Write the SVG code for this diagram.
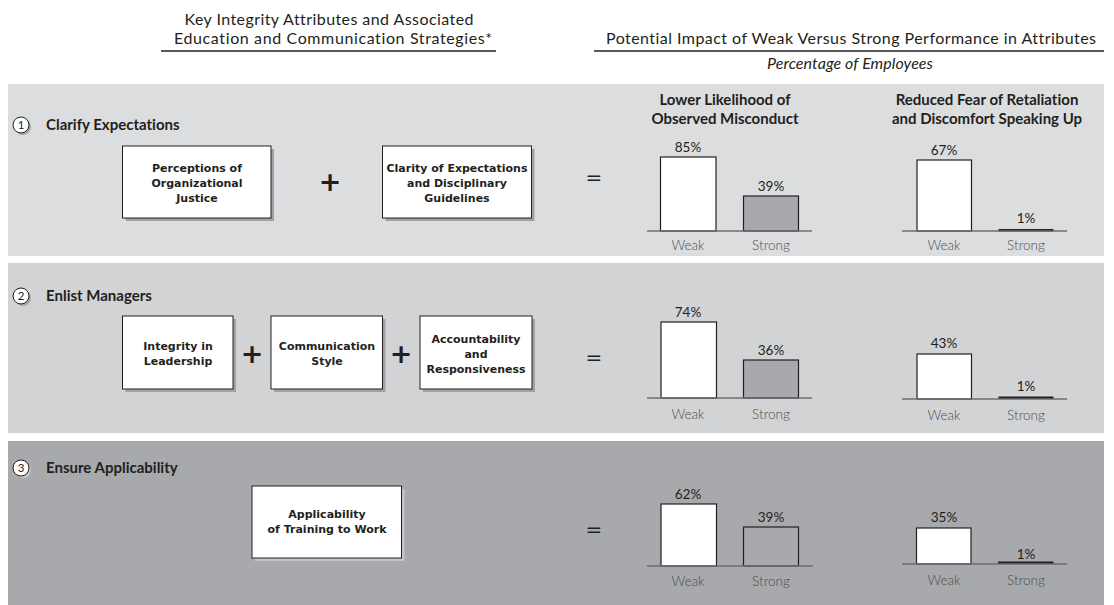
<svg xmlns="http://www.w3.org/2000/svg" width="1114" height="605" viewBox="0 0 1114 605">
<style>
text{font-variant-ligatures:none;font-feature-settings:"liga" 0,"dlig" 0}
.hdr{font-family:Lato,"Liberation Sans",sans-serif;font-size:16px;fill:#231f20}
.hdri{font-family:Lato,"Liberation Sans",sans-serif;font-size:16px;font-style:italic;fill:#231f20}
.sec{font-family:Lato,"Liberation Sans",sans-serif;font-size:15px;font-weight:bold;fill:#231f20}
.num{font-family:Lato,"Liberation Sans",sans-serif;font-size:11.5px;fill:#231f20;text-anchor:middle}
.box{fill:#fff;stroke:#231f20;stroke-width:1}
.btx{font-family:"DejaVu Sans",Verdana,sans-serif;font-size:11px;font-weight:bold;fill:#231f20;text-anchor:middle}
.op{font-family:"DejaVu Sans",sans-serif;font-weight:bold;fill:#231f20;text-anchor:middle}
.eq{font-family:"DejaVu Sans",sans-serif;fill:#231f20;text-anchor:middle}
.ctitle{font-family:Lato,"Liberation Sans",sans-serif;font-size:15px;font-weight:bold;fill:#231f20;text-anchor:middle}
.val{font-family:Lato,"Liberation Sans",sans-serif;font-size:13.5px;fill:#231f20;text-anchor:middle}
.lab{font-family:Lato,"Liberation Sans",sans-serif;font-size:13.5px;font-weight:300;fill:#4d4d4f;text-anchor:middle}
.wbar{fill:#fff;stroke:#231f20;stroke-width:1.2}
.sbar{fill:#a7a9ac;stroke:#231f20;stroke-width:1.2}
.tbar{fill:#231f20}
.axis{stroke:#6d6e71;stroke-width:1.3}
</style>

<!-- headers -->
<g id="header-left">
<text class="hdr" x="329" y="25" text-anchor="middle" textLength="289" lengthAdjust="spacing">Key Integrity Attributes and Associated</text>
<text class="hdr" x="333" y="44" text-anchor="middle" textLength="318" lengthAdjust="spacing">Education and Communication Strategies*</text>
<line x1="161" y1="51" x2="496" y2="51" stroke="#231f20" stroke-width="1.3"/>
</g>
<g id="header-right">
<text class="hdr" x="851" y="44" text-anchor="middle" textLength="490" lengthAdjust="spacing">Potential Impact of Weak Versus Strong Performance in Attributes</text>
<line x1="594" y1="51" x2="1104" y2="51" stroke="#231f20" stroke-width="1.3"/>
<text class="hdri" x="850" y="69" text-anchor="middle" textLength="166" lengthAdjust="spacing">Percentage of Employees</text>
</g>

<!-- bands -->
<rect x="8" y="84" width="1096" height="172" fill="#dcdddf"/>
<rect x="8" y="263" width="1096" height="170" fill="#d1d3d4"/>
<rect x="8" y="441" width="1096" height="164" fill="#a7a9ac"/>

<!-- section 1 -->
<g id="section1-title">
<circle cx="23" cy="127" r="8" fill="#a7a9ac"/>
<circle cx="21" cy="125" r="8" fill="#fff" stroke="#231f20" stroke-width="1"/>
<text class="num" x="21" y="129">1</text>
<text class="sec" x="46" y="130">Clarify Expectations</text>
</g>
<g id="node-perceptions">
<rect x="125.5" y="149" width="148.5" height="72" fill="#a0a2a5"/>
<rect class="box" x="122.5" y="146" width="148.5" height="72"/>
<text class="btx" x="197" y="172">Perceptions of</text>
<text class="btx" x="197" y="187">Organizational</text>
<text class="btx" x="197" y="202">Justice</text>
</g>
<g id="node-clarity">
<rect x="385.5" y="149" width="149" height="72" fill="#a0a2a5"/>
<rect class="box" x="382.5" y="146" width="149" height="72"/>
<text class="btx" x="457" y="172">Clarity of Expectations</text>
<text class="btx" x="457" y="187">and Disciplinary</text>
<text class="btx" x="457" y="202">Guidelines</text>
</g>
<g id="chart1-misconduct">
<text class="ctitle" x="725" y="105">Lower Likelihood of</text>
<text class="ctitle" x="725" y="124">Observed Misconduct</text>
<rect class="wbar" x="660.5" y="157" width="55.5" height="74"/>
<rect class="sbar" x="743.5" y="196" width="55" height="35"/>
<line class="axis" x1="647" y1="231" x2="812" y2="231"/>
<text class="val" x="688" y="152">85%</text>
<text class="val" x="771" y="191">39%</text>
<text class="lab" x="688" y="250">Weak</text>
<text class="lab" x="771" y="250">Strong</text>
</g>
<g id="chart1-retaliation">
<text class="ctitle" x="987" y="105">Reduced Fear of Retaliation</text>
<text class="ctitle" x="987" y="124">and Discomfort Speaking Up</text>
<rect class="wbar" x="917" y="160" width="54.5" height="71"/>
<rect class="tbar" x="998.5" y="229" width="55" height="2.5"/>
<line class="axis" x1="902" y1="231" x2="1067" y2="231"/>
<text class="val" x="944" y="155">67%</text>
<text class="val" x="1026" y="223">1%</text>
<text class="lab" x="944" y="250">Weak</text>
<text class="lab" x="1026" y="250">Strong</text>
</g>

<!-- section 2 -->
<g id="section2-title">
<circle cx="23" cy="298" r="8" fill="#a7a9ac"/>
<circle cx="21" cy="296" r="8" fill="#fff" stroke="#231f20" stroke-width="1"/>
<text class="num" x="21" y="300">2</text>
<text class="sec" x="46" y="301">Enlist Managers</text>
</g>
<g id="node-integrity">
<rect x="125.5" y="319" width="110.5" height="73" fill="#a0a2a5"/>
<rect class="box" x="122.5" y="316" width="110.5" height="73"/>
<text class="btx" x="178" y="350">Integrity in</text>
<text class="btx" x="178" y="365">Leadership</text>
</g>
<g id="node-communication">
<rect x="274" y="319" width="111.5" height="73" fill="#a0a2a5"/>
<rect class="box" x="271" y="316" width="111.5" height="73"/>
<text class="btx" x="327" y="350">Communication</text>
<text class="btx" x="327" y="365">Style</text>
</g>
<g id="node-accountability">
<rect x="423" y="319" width="112" height="73" fill="#a0a2a5"/>
<rect class="box" x="420" y="316" width="112" height="73"/>
<text class="btx" x="476" y="343">Accountability</text>
<text class="btx" x="476" y="358">and</text>
<text class="btx" x="476" y="373">Responsiveness</text>
</g>
<g id="chart2-misconduct">
<rect class="wbar" x="661" y="322" width="55.5" height="76"/>
<rect class="sbar" x="743.5" y="360" width="55" height="38"/>
<line class="axis" x1="647" y1="398" x2="812" y2="398"/>
<text class="val" x="688" y="317">74%</text>
<text class="val" x="771" y="355">36%</text>
<text class="lab" x="688" y="419">Weak</text>
<text class="lab" x="771" y="419">Strong</text>
</g>
<g id="chart2-retaliation">
<rect class="wbar" x="917" y="354" width="54.5" height="45"/>
<rect class="tbar" x="998.5" y="396.5" width="55" height="2.5"/>
<line class="axis" x1="902" y1="399" x2="1067" y2="399"/>
<text class="val" x="944" y="348">43%</text>
<text class="val" x="1026" y="391">1%</text>
<text class="lab" x="944" y="420">Weak</text>
<text class="lab" x="1026" y="420">Strong</text>
</g>

<!-- section 3 -->
<g id="section3-title">
<circle cx="23" cy="470" r="8" fill="#c4c5c8"/>
<circle cx="21" cy="468" r="8" fill="#fff" stroke="#231f20" stroke-width="1"/>
<text class="num" x="21" y="472">3</text>
<text class="sec" x="46" y="473">Ensure Applicability</text>
</g>
<g id="node-applicability">
<rect x="255" y="489" width="149.5" height="72" fill="#c4c5c8"/>
<rect class="box" x="252" y="486" width="149.5" height="72"/>
<text class="btx" x="327" y="518">Applicability</text>
<text class="btx" x="327" y="533">of Training to Work</text>
</g>
<g id="chart3-misconduct">
<rect class="wbar" x="661" y="504" width="55.5" height="62"/>
<rect class="wbar" style="fill:#a7a9ac" x="743.5" y="527" width="55" height="39"/>
<line class="axis" x1="647" y1="566" x2="813" y2="566"/>
<text class="val" x="688" y="499">62%</text>
<text class="val" x="771" y="522">39%</text>
<text class="lab" x="688" y="586">Weak</text>
<text class="lab" x="771" y="586">Strong</text>
</g>
<g id="chart3-retaliation">
<rect class="wbar" x="916.5" y="528" width="54.5" height="36"/>
<rect class="tbar" x="998" y="561.5" width="55.5" height="2.5"/>
<line class="axis" x1="902" y1="564" x2="1067" y2="564"/>
<text class="val" x="944" y="522">35%</text>
<text class="val" x="1026" y="559">1%</text>
<text class="lab" x="944" y="585">Weak</text>
<text class="lab" x="1026" y="585">Strong</text>
</g>

<!-- operators -->
<g id="connectors">
<text class="op" x="330" y="191" font-size="27">+</text>
<text class="op" x="252" y="363" font-size="27">+</text>
<text class="op" x="401" y="363" font-size="27">+</text>
<text class="eq" x="594" y="184" font-size="20">=</text>
<text class="eq" x="594" y="364" font-size="20">=</text>
<text class="eq" x="594" y="536" font-size="20">=</text>
</g>
</svg>
